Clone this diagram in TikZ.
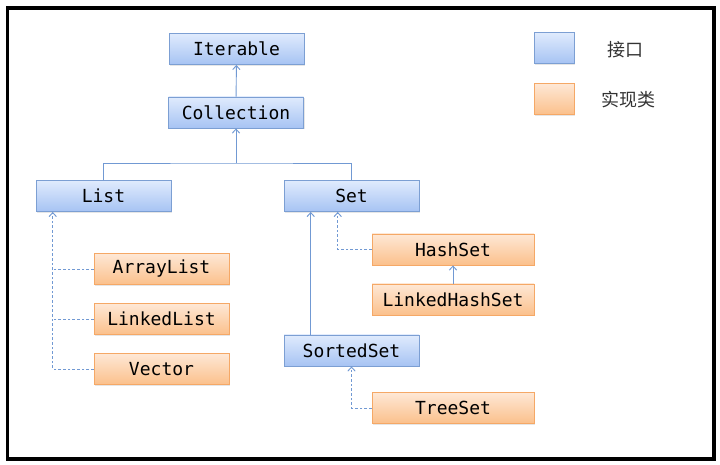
\documentclass[tikz,border=0pt]{standalone}
\usepackage{fontspec}
\setmonofont{DejaVu Sans Mono}
\newfontfamily\cjk{Noto Sans CJK SC}
\usetikzlibrary{positioning, calc, arrows.meta, shadows}

\definecolor{ifaceTop}{HTML}{E0EBFD}
\definecolor{ifaceBot}{HTML}{A6C3F3}
\definecolor{ifaceLine}{HTML}{7C9FD3}
\definecolor{implTop}{HTML}{FEE8D6}
\definecolor{implBot}{HTML}{FBC08B}
\definecolor{implLine}{HTML}{F5A866}
\definecolor{linkBlue}{HTML}{7199D3}

\begin{document}
\begin{tikzpicture}[x=0.75pt, y=-0.75pt, >={Straight Barb[length=3pt,width=5.5pt]},
    box/.style={rectangle, inner sep=0pt, minimum height=23.5pt, minimum width=101.25pt,
                font=\ttfamily\fontsize{13.5}{15}\selectfont,
                drop shadow={opacity=0.2, shadow xshift=0.8pt, shadow yshift=-0.8pt}},
    iface/.style={box, draw=ifaceLine, top color=ifaceTop, bottom color=ifaceBot},
    impl/.style={box, draw=implLine, top color=implTop, bottom color=implBot},
    ext/.style={draw=linkBlue, line width=0.7pt},
    realize/.style={ext, dash pattern=on 2pt off 1.5pt},
    legend/.style={font=\cjk\fontsize{13.5}{15}\selectfont, text=black!80}]

    \useasboundingbox (0,0) rectangle (720,464);

    % --- Outer frame ---
    \draw[line width=2.3pt] (7.5,8) rectangle (714,459);

    % --- Interfaces ---
    \node[iface] (Iterable)   at (236.5,49)  {Iterable};
    \node[iface] (Collection) at (236,112.5) {Collection};
    \node[iface] (List)       at (103.5,196) {List};
    \node[iface] (Set)        at (351.5,196) {Set};
    \node[iface] (SortedSet)  at (351.5,350.5) {SortedSet};

    % --- Implementations ---
    \node[impl] (ArrayList)  at (161.5,269) {ArrayList};
    \node[impl] (LinkedList) at (161.5,319) {LinkedList};
    \node[impl] (Vector)     at (161.5,369) {Vector};
    \node[impl, minimum width=121.5pt] (HashSet)       at (453,249.5) {HashSet};
    \node[impl, minimum width=121.5pt] (LinkedHashSet) at (453,299.5) {LinkedHashSet};
    \node[impl, minimum width=121.5pt] (TreeSet)       at (453,408)   {TreeSet};

    % --- Legend ---
    \node[iface, minimum width=30pt] (keyIface) at (554,48) {};
    \node[impl, minimum width=30pt]  (keyImpl)  at (554,99) {};
    \node[legend] (keyIfaceText) at (625,50)  {接口};
    \node[legend] (keyImplText)  at (628,100) {实现类};

    % --- Top of the hierarchy ---
    \draw[ext, ->] (Collection) -- (Iterable);
    \coordinate (fork) at (236,163);
    \draw[ext] (List.north) |- (fork) -| (Set.north);
    \draw[ext, ->] (fork) -- (Collection.south);

    % --- List implementations ---
    \coordinate (listBus) at ($(List.south west)+(17,0)$);
    \draw[realize, ->] (Vector.west) -| (listBus);
    \draw[realize] (ArrayList.west) -- (ArrayList.west -| listBus);
    \draw[realize] (LinkedList.west) -- (LinkedList.west -| listBus);

    % --- Set branch ---
    \coordinate (setSub) at ($(Set.south west)+(27,0)$);
    \coordinate (setImpl) at ($(Set.south west)+(54,0)$);
    \draw[ext, ->] (SortedSet.north -| setSub) -- (setSub);
    \draw[realize, ->] (HashSet.west) -| (setImpl);
    \draw[ext, ->] (LinkedHashSet) -- (HashSet);
    \draw[realize, ->] (TreeSet.west) -| (SortedSet.south);

\end{tikzpicture}
\end{document}
